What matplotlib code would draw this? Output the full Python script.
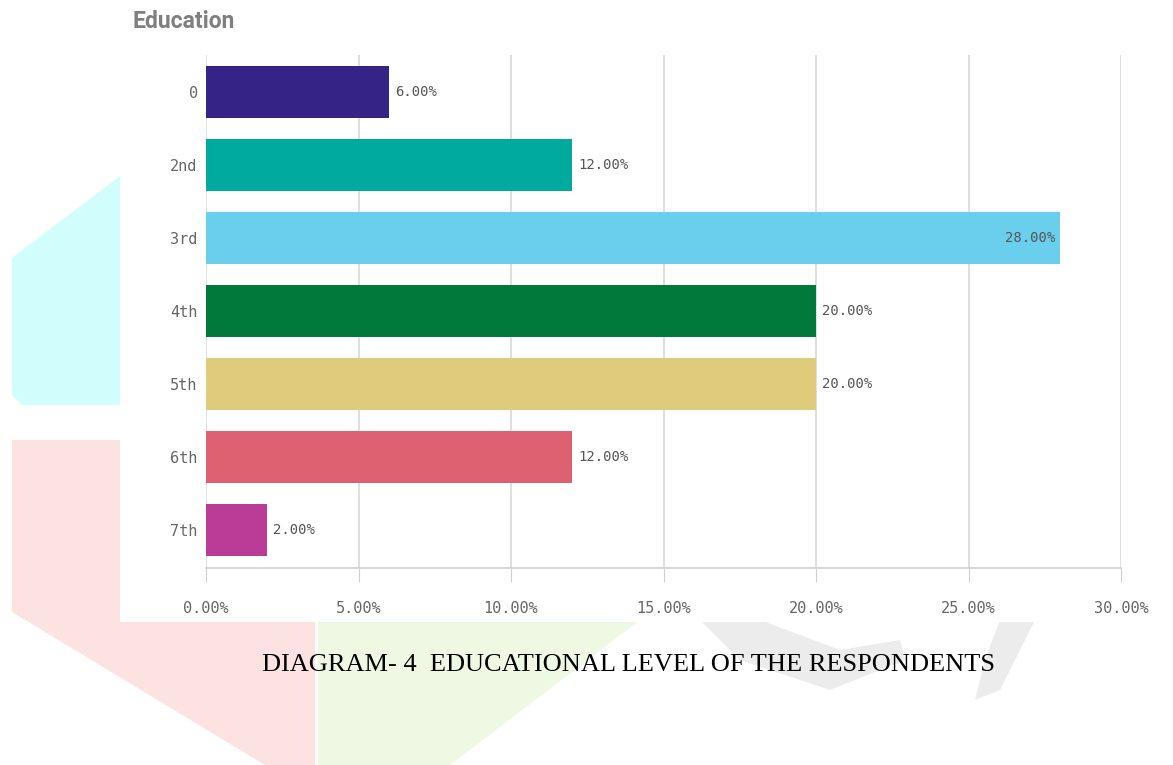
import matplotlib.pyplot as plt
from matplotlib.patches import Polygon, Rectangle

# data
categories = ['0', '2nd', '3rd', '4th', '5th', '6th', '7th']
percent = [6.0, 12.0, 28.0, 20.0, 20.0, 12.0, 2.0]
bar_colors = ['#352486', '#00ab9e', '#6acfed', '#00793a', '#e0ca7b', '#de6172', '#bb3c96']
x_ticks = [0, 5, 10, 15, 20, 25, 30]

W, H = 1173, 765
fig = plt.figure(figsize=(W / 100, H / 100), dpi=100)
fig.patch.set_facecolor('white')


def px(points):
    # pixel coords (top-left origin) -> figure fraction
    return [(x / W, 1 - y / H) for x, y in points]


# faint watermark behind the chart
wm = [
    ([(12, 258), (120, 176), (120, 405), (22, 405), (12, 395)], '#d2fdfd'),
    ([(12, 440), (120, 440), (120, 620), (315, 620), (315, 765),
      (265, 765), (12, 612)], '#fde2e2'),
    ([(318, 620), (640, 620), (450, 765), (318, 765)], '#eef8e2'),
    ([(700, 620), (760, 620), (840, 650), (900, 640), (905, 660),
      (830, 690), (740, 660)], '#ececec'),
    ([(1000, 620), (1035, 620), (1000, 690), (975, 700), (985, 660)], '#ececec'),
]
for pts, c in wm:
    fig.patches.append(Polygon(px(pts), closed=True, facecolor=c,
                               edgecolor='none', transform=fig.transFigure, zorder=0))
fig.patches.append(Rectangle((120 / W, 1 - 622 / H), (1150 - 120) / W, 622 / H,
                             facecolor='white', edgecolor='none',
                             transform=fig.transFigure, zorder=0))

ax = fig.add_axes([206 / W, 1 - 568 / H, (1121 - 206) / W, (568 - 55) / H])
ax.set_facecolor('none')
ax.set_zorder(2)

y = list(range(len(categories)))
ax.barh(y, percent, height=0.7, color=bar_colors, zorder=3)

mono = 'DejaVu Sans Mono'
for yi, v in zip(y, percent):
    label = f'{v:.2f}%'
    if v > 25:
        ax.text(v - 0.15, yi, label, ha='right', va='center', family=mono,
                fontsize=10, color='#555555', zorder=4)
    else:
        ax.text(v + 0.2, yi, label, ha='left', va='center', family=mono,
                fontsize=10, color='#555555', zorder=4)

ax.set_xlim(0, 30)
ax.set_ylim(6.52, -0.507)
ax.set_xticks(x_ticks)
ax.set_xticklabels([f'{t:.2f}%' for t in x_ticks], family=mono, fontsize=11, color='#666666')
ax.set_yticks(y)
ax.set_yticklabels(categories, family=mono, fontsize=11, color='#666666')
ax.tick_params(axis='y', length=0, pad=6)
ax.tick_params(axis='x', length=10, color='#d0d0d0', pad=14)
ax.grid(axis='x', color='#d9d9d9', linewidth=1.2, zorder=0)
for s in ['top', 'right', 'left']:
    ax.spines[s].set_visible(False)
ax.spines['bottom'].set_color('#d0d0d0')
ax.spines['bottom'].set_linewidth(1.2)

fig.text(132 / W, 1 - 22 / H, 'Education', fontsize=16.5, fontweight='bold',
         color='#7f7f7f', ha='left', va='center', family='Roboto')

fig.text(628 / W, 1 - 665 / H, 'DIAGRAM- 4  EDUCATIONAL LEVEL OF THE RESPONDENTS',
         fontsize=19, family='Liberation Serif', color='black', ha='center', va='center')

fig.savefig('out.png', dpi=100)
